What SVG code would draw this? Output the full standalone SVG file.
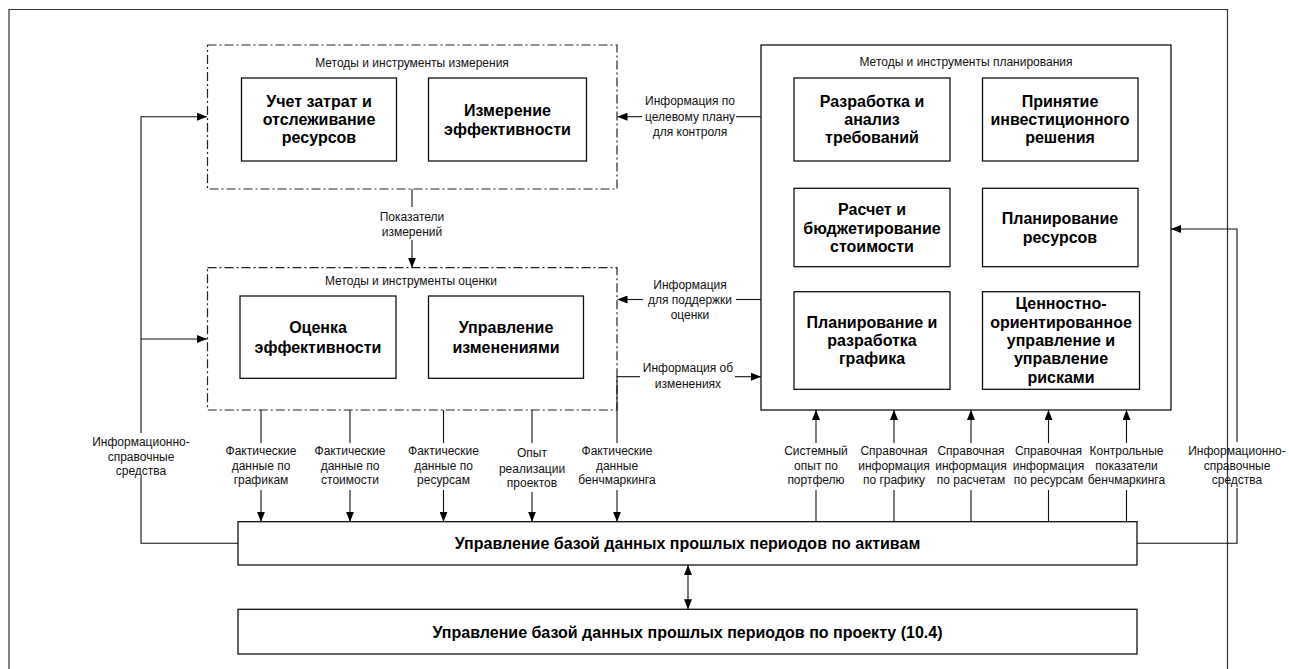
<svg xmlns="http://www.w3.org/2000/svg" width="1289" height="669" viewBox="0 0 1289 669">
  <style>
    .t { font-family: "Liberation Sans", Arial, sans-serif; font-size: 12px; fill: #111; text-anchor: middle; }
    .b { font-family: "Liberation Sans", Arial, sans-serif; font-size: 16px; font-weight: bold; fill: #000; text-anchor: middle; }
    .box { fill: #fff; stroke: #111; stroke-width: 1.3; }
    .grp { fill: #fff; stroke: #222; stroke-width: 1.2; stroke-dasharray: 9 3 2 3; }
    .plan { fill: #fff; stroke: #111; stroke-width: 1.3; }
    .ln { fill: none; stroke: #111; stroke-width: 1.1; }
    .frame { fill: none; stroke: #333; stroke-width: 1.2; }
  </style>
  <defs>
    <marker id="arr" viewBox="0 0 10 8" refX="10" refY="4" markerWidth="10" markerHeight="8" markerUnits="userSpaceOnUse" orient="auto">
      <path d="M0,0 L10,4 L0,8 z" fill="#000"/>
    </marker>
    <marker id="arrS" viewBox="0 0 10 8" refX="10" refY="4" markerWidth="10" markerHeight="8" markerUnits="userSpaceOnUse" orient="auto-start-reverse">
      <path d="M0,0 L10,4 L0,8 z" fill="#000"/>
    </marker>
  </defs>

  <rect width="1289" height="669" fill="#fff"/>
  <path class="frame" d="M9,669 V9.5 H1227.5 V669"/>

  <!-- measurement methods -->
  <g id="measure">
    <rect class="grp" x="207.5" y="45" width="409.5" height="144"/>
    <text class="t" x="412" y="66.5">Методы и инструменты измерения</text>
  </g>
  <g id="cost-tracking">
    <rect class="box" x="241.5" y="78" width="155" height="83"/>
    <text class="b" x="319" y="106.7">Учет затрат и</text>
    <text class="b" x="319" y="125">отслеживание</text>
    <text class="b" x="319" y="143.3">ресурсов</text>
  </g>
  <g id="performance-measure">
    <rect class="box" x="428.5" y="78" width="158" height="83"/>
    <text class="b" x="507.5" y="116">Измерение</text>
    <text class="b" x="507.5" y="134.5">эффективности</text>
  </g>

  <!-- assessment methods -->
  <g id="assess">
    <rect class="grp" x="207.5" y="267.7" width="409.5" height="142.3"/>
    <text class="t" x="411" y="284.7">Методы и инструменты оценки</text>
  </g>
  <g id="performance-assess">
    <rect class="box" x="240" y="296" width="156" height="82.3"/>
    <text class="b" x="318" y="333">Оценка</text>
    <text class="b" x="318" y="352.5">эффективности</text>
  </g>
  <g id="change-mgmt">
    <rect class="box" x="428.5" y="296" width="155" height="82.3"/>
    <text class="b" x="506" y="333">Управление</text>
    <text class="b" x="506" y="352.5">изменениями</text>
  </g>

  <!-- planning methods -->
  <g id="plan">
    <rect class="plan" x="761" y="45" width="410" height="365"/>
    <text class="t" x="966" y="65.7">Методы и инструменты планирования</text>
  </g>
  <g id="requirements">
    <rect class="box" x="794" y="78" width="156" height="83"/>
    <text class="b" x="872" y="106.7">Разработка и</text>
    <text class="b" x="872" y="125">анализ</text>
    <text class="b" x="872" y="143.3">требований</text>
  </g>
  <g id="investment">
    <rect class="box" x="982.5" y="78" width="155.5" height="83"/>
    <text class="b" x="1060" y="106.7">Принятие</text>
    <text class="b" x="1060" y="125">инвестиционного</text>
    <text class="b" x="1060" y="143.3">решения</text>
  </g>
  <g id="costing">
    <rect class="box" x="794" y="188.3" width="156" height="78.4"/>
    <text class="b" x="872" y="215">Расчет и</text>
    <text class="b" x="872" y="233.5">бюджетирование</text>
    <text class="b" x="872" y="252">стоимости</text>
  </g>
  <g id="resources">
    <rect class="box" x="982.5" y="188.3" width="155.5" height="78.4"/>
    <text class="b" x="1060" y="224.3">Планирование</text>
    <text class="b" x="1060" y="242.8">ресурсов</text>
  </g>
  <g id="scheduling">
    <rect class="box" x="794" y="291.7" width="156" height="97.6"/>
    <text class="b" x="872" y="327.7">Планирование и</text>
    <text class="b" x="872" y="346">разработка</text>
    <text class="b" x="872" y="364.3">графика</text>
  </g>
  <g id="value-risk">
    <rect class="box" x="982.5" y="291.7" width="157" height="97.6"/>
    <text class="b" x="1061" y="309.3">Ценностно-</text>
    <text class="b" x="1061" y="327.7">ориентированное</text>
    <text class="b" x="1061" y="346">управление и</text>
    <text class="b" x="1061" y="364.3">управление</text>
    <text class="b" x="1061" y="382.7">рисками</text>
  </g>

  <!-- history databases -->
  <g id="asset-db">
    <rect class="box" x="238" y="521.7" width="899" height="43.3"/>
    <text class="b" x="687.5" y="549">Управление базой данных прошлых периодов по активам</text>
  </g>
  <g id="project-db">
    <rect class="box" x="238" y="609.3" width="899" height="44.7"/>
    <text class="b" x="687.5" y="637.5">Управление базой данных прошлых периодов по проекту (10.4)</text>
  </g>

  <!-- connectors -->
  <g id="connectors">
    <!-- left reference tools -->
    <path class="ln" d="M238,543.3 H141 V478"/>
    <path class="ln" d="M141,433 V116.7 H207" marker-end="url(#arr)"/>
    <path class="ln" d="M141,339 H207" marker-end="url(#arr)"/>
    <!-- measurement to assessment -->
    <path class="ln" d="M412,189 V207"/>
    <path class="ln" d="M412,240 V267.7" marker-end="url(#arr)"/>
    <!-- planning to measurement -->
    <path class="ln" d="M761,116.7 H736"/>
    <path class="ln" d="M642,116.7 H617.5" marker-end="url(#arr)"/>
    <!-- planning to assessment -->
    <path class="ln" d="M761,299.5 H736"/>
    <path class="ln" d="M643,299.5 H617.5" marker-end="url(#arr)"/>
    <!-- change info to planning -->
    <path class="ln" d="M617,376.7 H640"/>
    <path class="ln" d="M735,376.7 H761" marker-end="url(#arr)"/>
    <!-- actuals down to asset db -->
    <path class="ln" d="M261,410 V443"/>
    <path class="ln" d="M261,490 V521.7" marker-end="url(#arr)"/>
    <path class="ln" d="M350,410 V443"/>
    <path class="ln" d="M350,490 V521.7" marker-end="url(#arr)"/>
    <path class="ln" d="M443.5,410 V443"/>
    <path class="ln" d="M443.5,490 V521.7" marker-end="url(#arr)"/>
    <path class="ln" d="M532,410 V443"/>
    <path class="ln" d="M532,492 V521.7" marker-end="url(#arr)"/>
    <path class="ln" d="M617,376.7 V443"/>
    <path class="ln" d="M617,490 V521.7" marker-end="url(#arr)"/>
    <!-- asset db up to planning -->
    <path class="ln" d="M816,521.7 V490"/>
    <path class="ln" d="M816,443 V410" marker-end="url(#arr)"/>
    <path class="ln" d="M894,521.7 V490"/>
    <path class="ln" d="M894,443 V410" marker-end="url(#arr)"/>
    <path class="ln" d="M971,521.7 V490"/>
    <path class="ln" d="M971,443 V410" marker-end="url(#arr)"/>
    <path class="ln" d="M1048.5,521.7 V490"/>
    <path class="ln" d="M1048.5,443 V410" marker-end="url(#arr)"/>
    <path class="ln" d="M1126.5,521.7 V490"/>
    <path class="ln" d="M1126.5,443 V410" marker-end="url(#arr)"/>
    <!-- right reference tools -->
    <path class="ln" d="M1137,543.3 H1237 V488"/>
    <path class="ln" d="M1237,442 V229 H1171" marker-end="url(#arr)"/>
    <!-- asset db to project db -->
    <path class="ln" d="M688,565 V609.3" marker-start="url(#arrS)" marker-end="url(#arr)"/>

    <!-- connector labels -->
    <text class="t" x="141" y="445.7">Информационно-</text>
    <text class="t" x="141" y="460.7">справочные</text>
    <text class="t" x="141" y="474.7">средства</text>

    <text class="t" x="412" y="220.7">Показатели</text>
    <text class="t" x="412" y="235.7">измерений</text>

    <text class="t" x="690" y="105">Информация по</text>
    <text class="t" x="690" y="120.7">целевому плану</text>
    <text class="t" x="690" y="136">для контроля</text>

    <text class="t" x="690" y="288.5">Информация</text>
    <text class="t" x="690" y="303.5">для поддержки</text>
    <text class="t" x="690" y="318.5">оценки</text>

    <text class="t" x="688" y="372.3">Информация об</text>
    <text class="t" x="688" y="388">изменениях</text>

    <text class="t" x="261" y="455">Фактические</text>
    <text class="t" x="261" y="469.7">данные по</text>
    <text class="t" x="261" y="484">графикам</text>

    <text class="t" x="350" y="455">Фактические</text>
    <text class="t" x="350" y="469.7">данные по</text>
    <text class="t" x="350" y="484">стоимости</text>

    <text class="t" x="443.5" y="455">Фактические</text>
    <text class="t" x="443.5" y="469.7">данные по</text>
    <text class="t" x="443.5" y="484">ресурсам</text>

    <text class="t" x="532" y="457.3">Опыт</text>
    <text class="t" x="532" y="473">реализации</text>
    <text class="t" x="532" y="487.3">проектов</text>

    <text class="t" x="617" y="455">Фактические</text>
    <text class="t" x="617" y="469.7">данные</text>
    <text class="t" x="617" y="484">бенчмаркинга</text>

    <text class="t" x="816" y="455">Системный</text>
    <text class="t" x="816" y="469.7">опыт по</text>
    <text class="t" x="816" y="484">портфелю</text>

    <text class="t" x="894" y="455">Справочная</text>
    <text class="t" x="894" y="469.7">информация</text>
    <text class="t" x="894" y="484">по графику</text>

    <text class="t" x="971" y="455">Справочная</text>
    <text class="t" x="971" y="469.7">информация</text>
    <text class="t" x="971" y="484">по расчетам</text>

    <text class="t" x="1048.5" y="455">Справочная</text>
    <text class="t" x="1048.5" y="469.7">информация</text>
    <text class="t" x="1048.5" y="484">по ресурсам</text>

    <text class="t" x="1126.5" y="455">Контрольные</text>
    <text class="t" x="1126.5" y="469.7">показатели</text>
    <text class="t" x="1126.5" y="484">бенчмаркинга</text>

    <text class="t" x="1237" y="455">Информационно-</text>
    <text class="t" x="1237" y="469.7">справочные</text>
    <text class="t" x="1237" y="484">средства</text>
  </g>
</svg>
